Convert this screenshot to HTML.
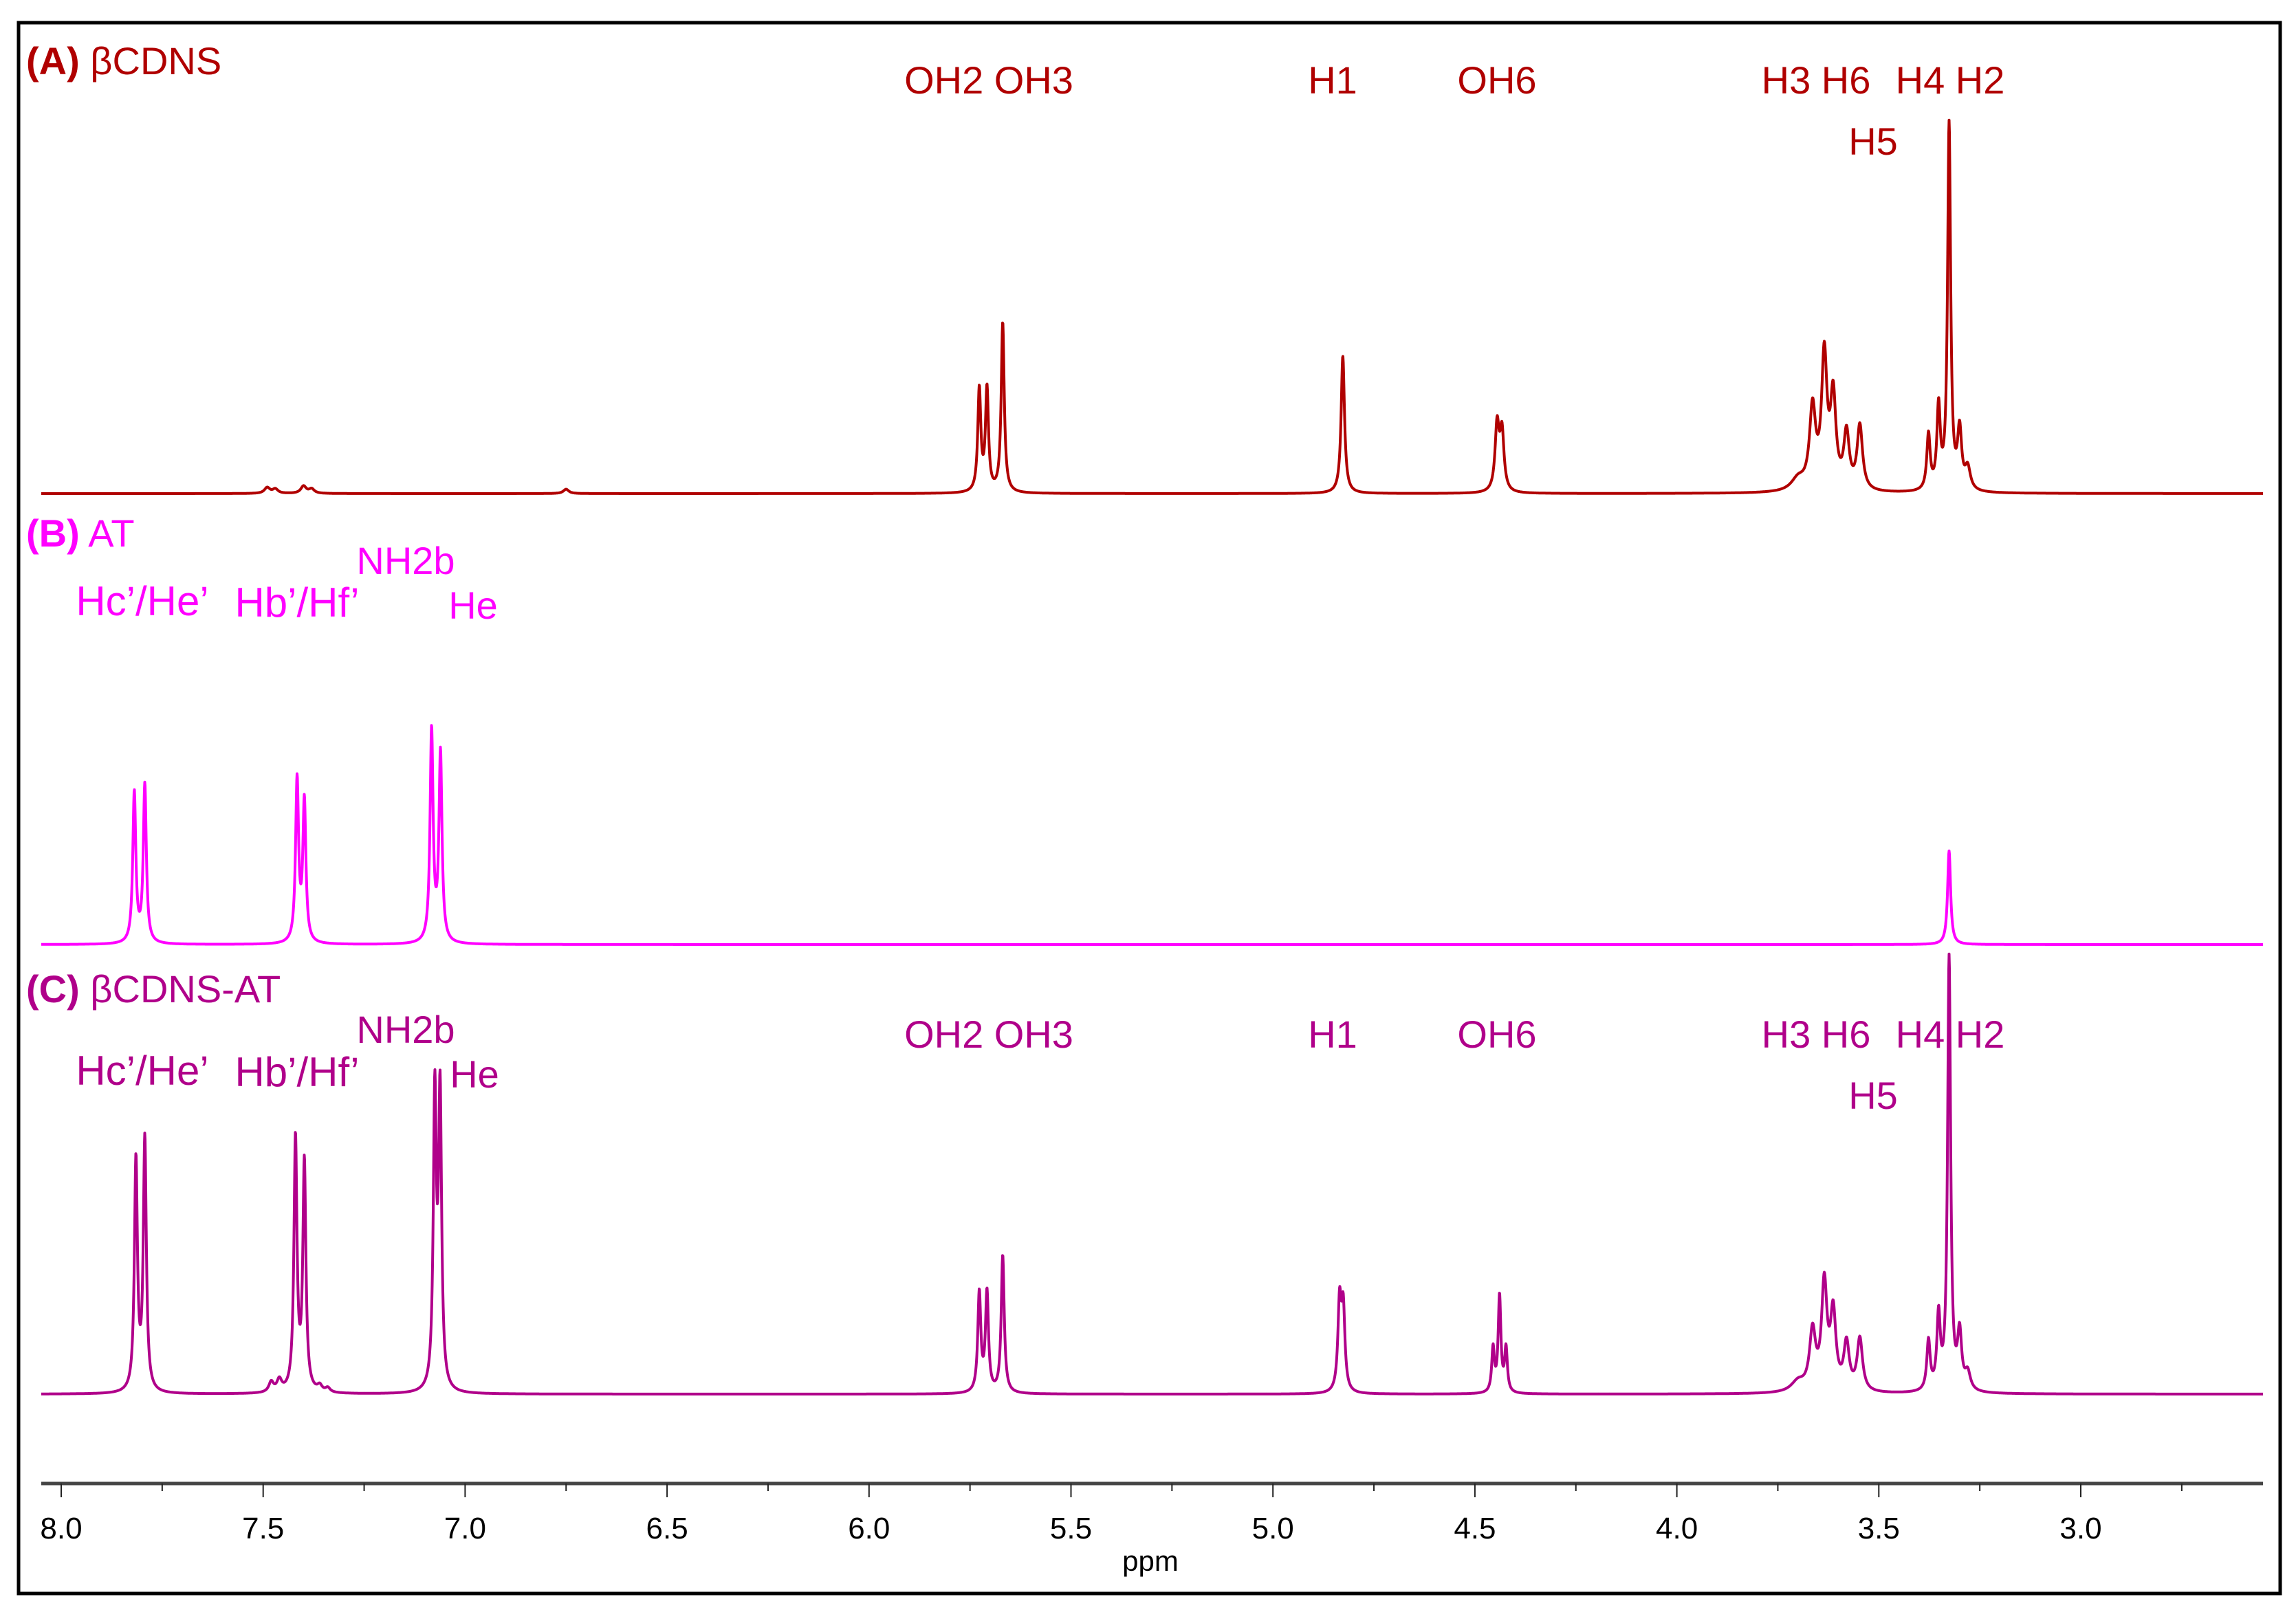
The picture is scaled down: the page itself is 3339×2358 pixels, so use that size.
<!DOCTYPE html>
<html><head><meta charset="utf-8"><style>
html,body{margin:0;padding:0;background:#fff;}
svg{display:block;}
text{font-family:"Liberation Sans",Arial,sans-serif;}
</style></head><body>
<svg id="chart" width="3339" height="2358" viewBox="0 0 3339 2358" xmlns="http://www.w3.org/2000/svg">
<rect x="0" y="0" width="3339" height="2358" fill="#fff"/>
<rect x="27" y="33" width="3289" height="2285" fill="none" stroke="#000" stroke-width="5"/>
<g id="axis"></g>
<g id="series"></g>
<g fill="#b00000" font-size="56">
<text x="38" y="108"><tspan font-weight="bold">(A)</tspan> βCDNS</text>
<text x="1438" y="136" text-anchor="middle">OH2 OH3</text>
<text x="1938" y="136" text-anchor="middle">H1</text>
<text x="2177" y="136" text-anchor="middle">OH6</text>
<text x="2641" y="136" text-anchor="middle">H3 H6</text>
<text x="2836" y="136" text-anchor="middle">H4 H2</text>
<text x="2724" y="225" text-anchor="middle">H5</text>
</g>
<g fill="#ff00ff" font-size="56">
<text x="38" y="795"><tspan font-weight="bold">(B)</tspan> AT</text>
<text x="590" y="835" text-anchor="middle">NH2b</text>
<text x="207" y="895" text-anchor="middle" font-size="60">Hc’/He’</text>
<text x="432" y="897" text-anchor="middle" font-size="60">Hb’/Hf’</text>
<text x="688" y="900" text-anchor="middle">He</text>
</g>
<g fill="#b0008a" font-size="56">
<text x="38" y="1458"><tspan font-weight="bold">(C)</tspan> βCDNS-AT</text>
<text x="590" y="1517" text-anchor="middle">NH2b</text>
<text x="207" y="1578" text-anchor="middle" font-size="60">Hc’/He’</text>
<text x="432" y="1580" text-anchor="middle" font-size="60">Hb’/Hf’</text>
<text x="690" y="1582" text-anchor="middle">He</text>
<text x="1438" y="1524" text-anchor="middle">OH2 OH3</text>
<text x="1938" y="1524" text-anchor="middle">H1</text>
<text x="2177" y="1524" text-anchor="middle">OH6</text>
<text x="2641" y="1524" text-anchor="middle">H3 H6</text>
<text x="2836" y="1524" text-anchor="middle">H4 H2</text>
<text x="2724" y="1613" text-anchor="middle">H5</text>
</g>
</svg>
<script>
const tickValues = [8.0,7.5,7.0,6.5,6.0,5.5,5.0,4.5,4.0,3.5,3.0];
const tickLabels = ["8.0","7.5","7.0","6.5","6.0","5.5","5.0","4.5","4.0","3.5","3.0"];
const minorTicks = [7.75,7.25,6.75,6.25,5.75,5.25,4.75,4.25,3.75,3.25,2.75];
// series A (βCDNS): peak positions (ppm), intensities, linewidths
const aPpm = [7.49,7.47,7.40,7.38,6.75,5.727,5.708,5.669,4.827,4.445,4.433,3.70,3.664,3.635,3.613,3.58,3.547,3.377,3.352,3.326,3.30,3.28];
const aInt = [4,3,5,3,3,70,70,116,94,45,40,8,55,90,62,38,44,38,56,250,40,15];
const aWid = [0.008,0.008,0.008,0.008,0.008,0.0045,0.0045,0.0045,0.005,0.006,0.006,0.02,0.009,0.008,0.008,0.008,0.008,0.005,0.005,0.0045,0.006,0.008];
// series B (AT)
const bPpm = [7.819,7.793,7.416,7.398,7.083,7.061,3.326];
const bInt = [103,108,111,96,145,129,64];
const bWid = [0.0045,0.0045,0.0045,0.0045,0.0045,0.0045,0.0045];
// series C (βCDNS-AT)
const cPpm = [7.815,7.793,7.48,7.46,7.42,7.398,7.36,7.34,7.075,7.062,5.727,5.708,5.669,4.835,4.826,4.455,4.439,4.423,3.70,3.664,3.635,3.613,3.58,3.547,3.377,3.352,3.326,3.30,3.28];
const cInt = [158,172,7,8,173,156,4,3,200,200,68,68,94,60,55,30,66,30,7,40,72,52,32,36,34,50,296,38,12];
const cWid = [0.0045,0.0045,0.007,0.007,0.0045,0.0045,0.007,0.007,0.0045,0.0045,0.0045,0.0045,0.0045,0.005,0.005,0.004,0.004,0.004,0.02,0.009,0.008,0.008,0.008,0.008,0.005,0.005,0.0045,0.006,0.008];

const PX = 2.13;
function xs(p){ return 89 + (8 - p) * 587.4; }
const NS = 'http://www.w3.org/2000/svg';
const ax = document.getElementById('axis');
function mk(tag, attrs, parent){ const e=document.createElementNS(NS,tag); for(const k in attrs) e.setAttribute(k,attrs[k]); parent.appendChild(e); return e; }

const axl = mk('line',{x1:60,x2:3291,y1:2158,y2:2158,stroke:'#444','stroke-width':5},ax);


tickValues.forEach((v,i)=>{
  const t = mk('line',{x1:xs(v),x2:xs(v),y1:2158,y2:2178,stroke:'#222','stroke-width':2},ax);
  
  
  const l = mk('text',{x:xs(v),y:2238,'text-anchor':'middle','font-size':44,fill:'#000'},ax);
  l.textContent = tickLabels[i];
  
  
});
minorTicks.forEach(v=>{
  const t = mk('line',{x1:xs(v),x2:xs(v),y1:2158,y2:2169,stroke:'#222','stroke-width':2},ax);
  
  
});
const xt = mk('text',{x:1673,y:2285,'text-anchor':'middle','font-size':42,fill:'#000'},ax);
xt.textContent='ppm';



const sg = document.getElementById('series');
function drawSeries(ppm, ints, wids, base, color, name){
  let d='';
  for(let x=60; x<=3291; x+=0.5){
    const p = 8 - (x-89)/587.4;
    let s=0;
    for(let i=0;i<ppm.length;i++){ const u=(p-ppm[i])/wids[i]; s+=ints[i]/(1+u*u); }
    const y = base - s*PX;
    d += (x===60?'M':'L')+x.toFixed(1)+','+y.toFixed(1);
  }
  const path = mk('path',{d:d,fill:'none',stroke:color,'stroke-width':4,'stroke-linejoin':'round'},sg);
  
  
}
drawSeries(aPpm,aInt,aWid,718,'#b00000','spectrum-a-bcdns');
drawSeries(bPpm,bInt,bWid,1374,'#ff00ff','spectrum-b-at');
drawSeries(cPpm,cInt,cWid,2028,'#b0008a','spectrum-c-bcdns-at');
</script>
</body></html>
